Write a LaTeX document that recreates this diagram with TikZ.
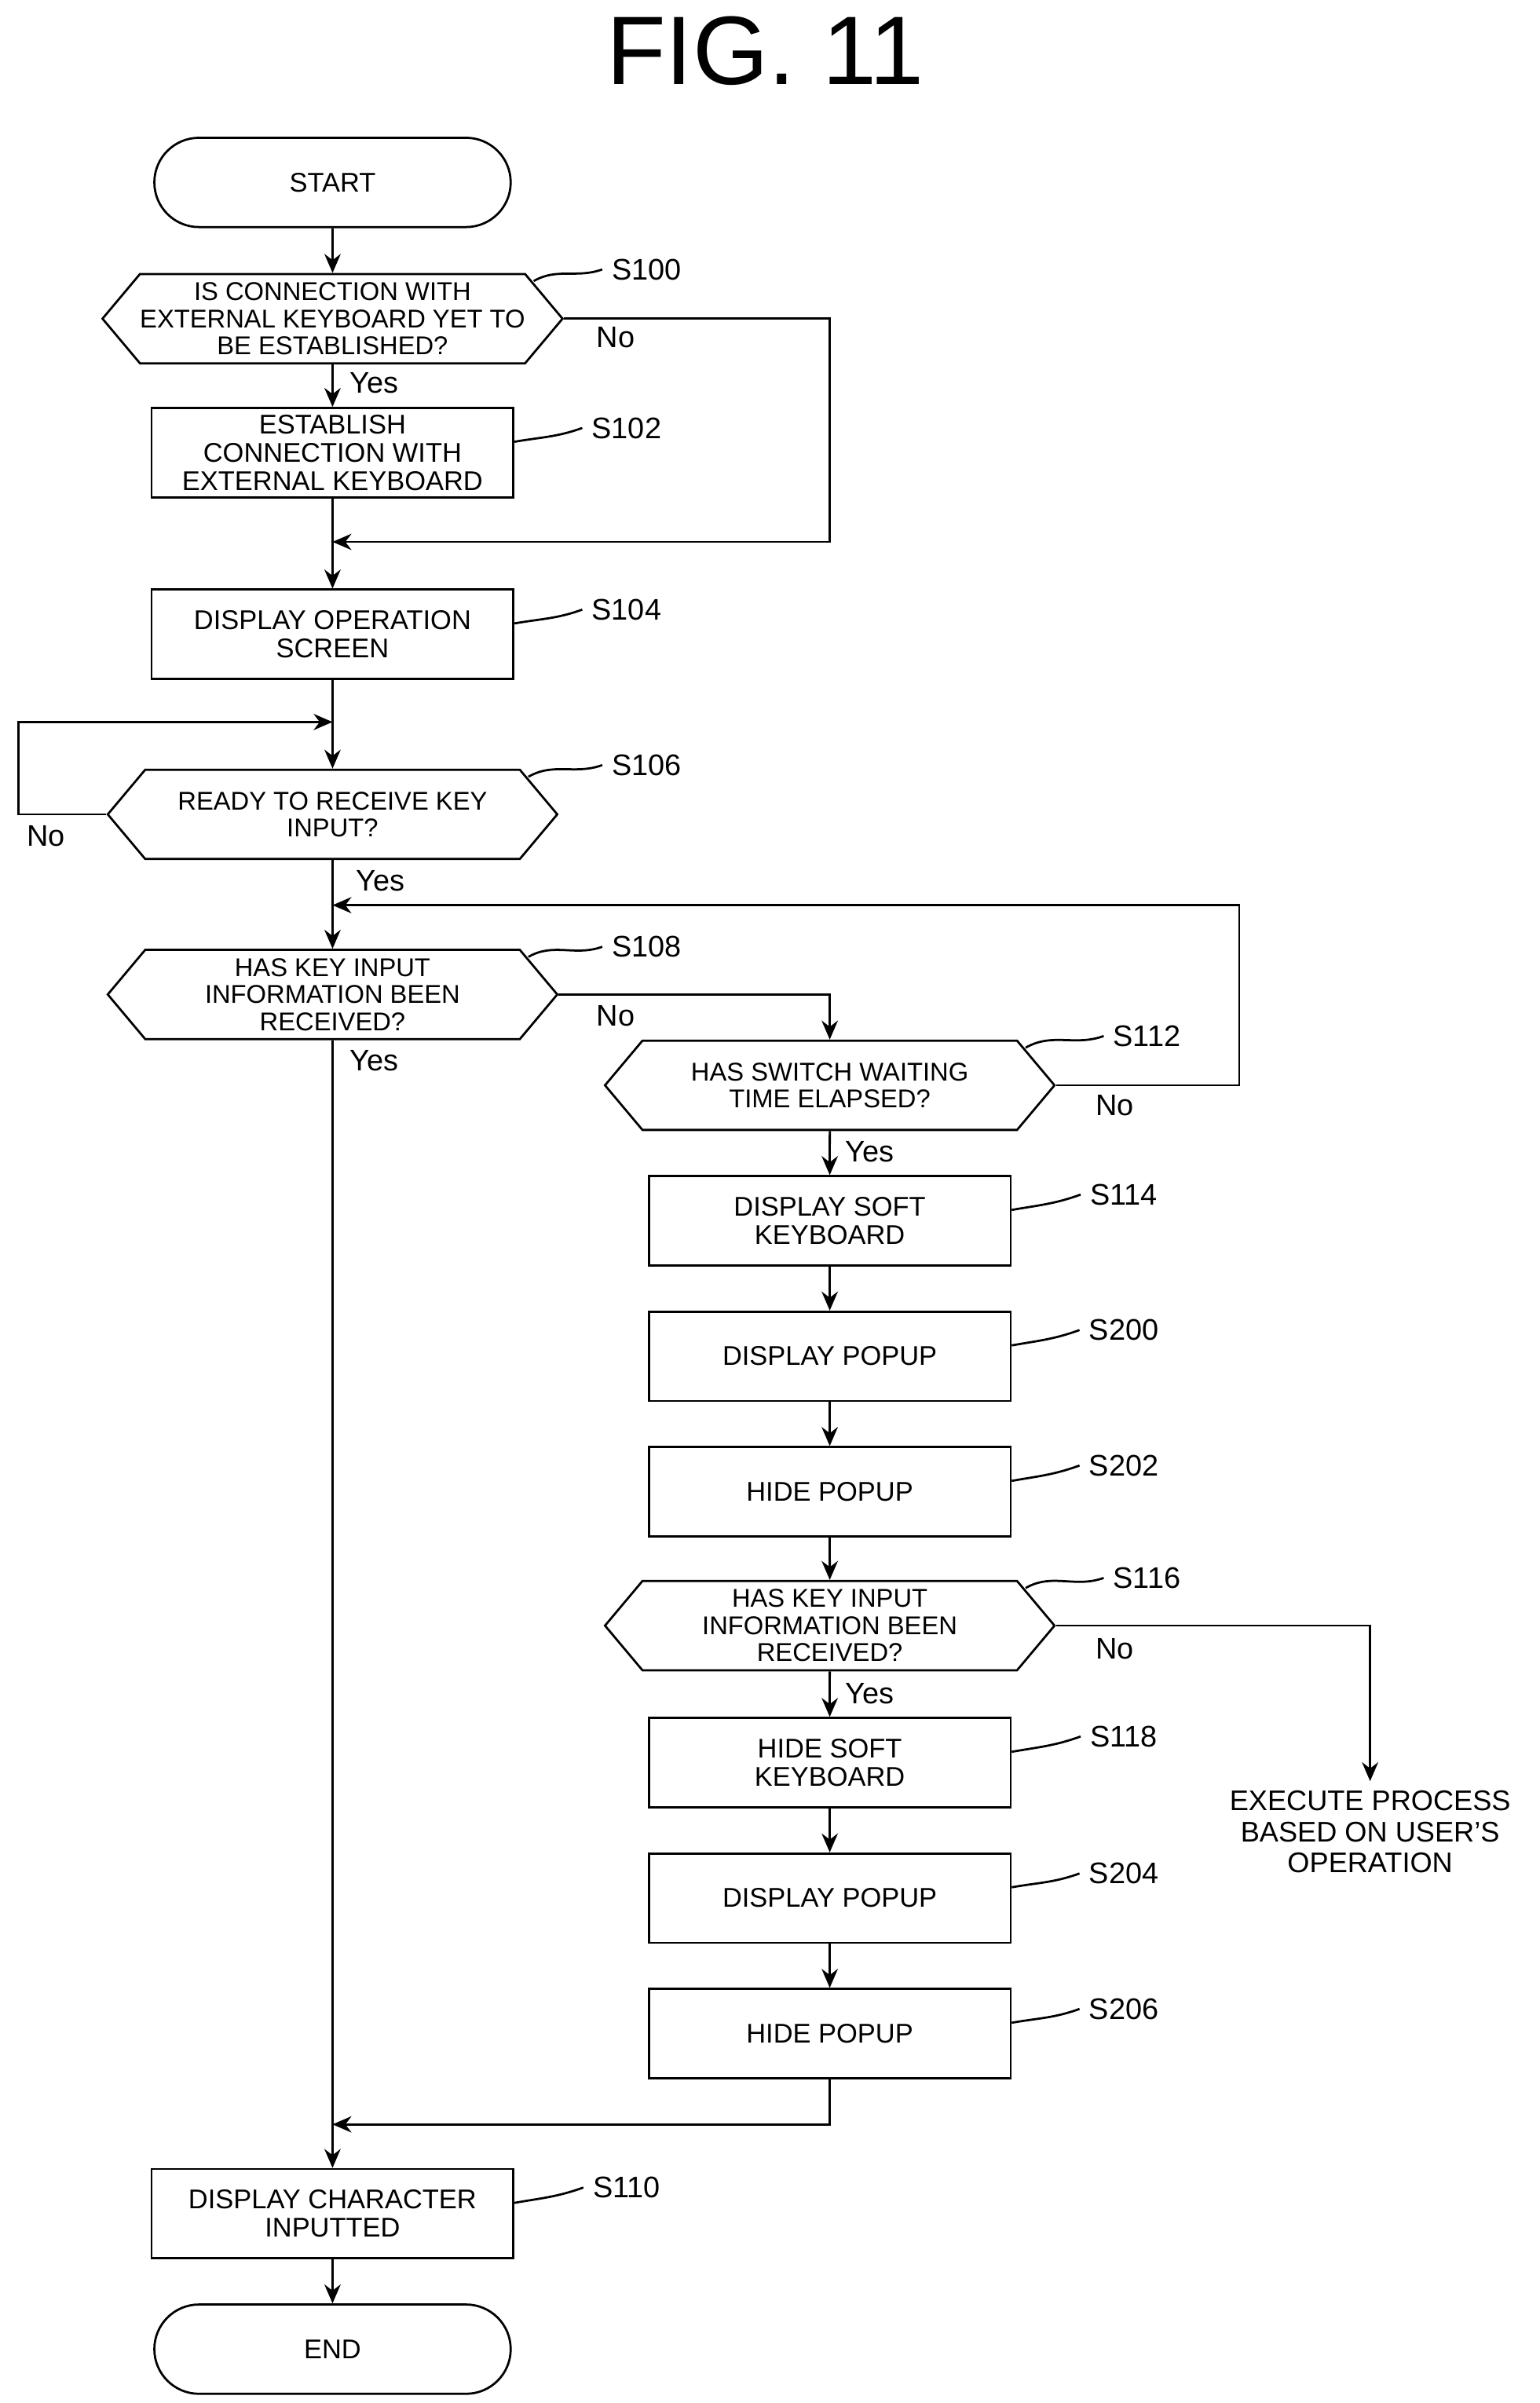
\documentclass[tikz,border=0pt]{standalone}
\usepackage{fontspec}
\setmainfont{Liberation Sans}
\usetikzlibrary{arrows.meta,shapes.symbols,shapes.misc,positioning}
\tikzset{
  box/.style={draw,thick,minimum width=4.7cm,minimum height=1.16cm,align=center,
    font=\fontsize{10}{10.5}\selectfont,inner sep=1pt},
  term/.style={box,rounded rectangle},
  dec/.style={draw,thick,signal,signal to=east and west,signal pointer angle=100,
    minimum width=5.84cm,minimum height=1.16cm,align=center,inner sep=0pt,
    font=\fontsize{9.5}{10}\selectfont},
  steplbl/.style={font=\fontsize{11}{12}\selectfont},
  yn/.style={font=\fontsize{11}{12}\selectfont},
  flow/.style={thick,-{Stealth[length=7pt,width=6pt]}},
  lead/.style={thick}
}
\begin{document}
\begin{tikzpicture}
\useasboundingbox (0,0) rectangle (20,-31.22);
\node[font=\fontsize{36}{38}\selectfont] (title) at (9.94,-0.66) {FIG. 11};
% main column
\node[term] (start) at (4.32,-2.37) {START};
\node[dec] (s100) at (4.32,-4.14) {IS CONNECTION WITH\\EXTERNAL KEYBOARD YET TO\\BE ESTABLISHED?};
\node[box] (s102) at (4.32,-5.88) {ESTABLISH\\CONNECTION WITH\\EXTERNAL KEYBOARD};
\node[box] (s104) at (4.32,-8.24) {DISPLAY OPERATION\\SCREEN};
\node[dec] (s106) at (4.32,-10.58) {READY TO RECEIVE KEY\\INPUT?};
\node[dec] (s108) at (4.32,-12.92) {HAS KEY INPUT\\INFORMATION BEEN\\RECEIVED?};
\node[box] (s110) at (4.32,-28.76) {DISPLAY CHARACTER\\INPUTTED};
\node[term] (end) at (4.32,-30.52) {END};
% right column
\node[dec] (s112) at (10.78,-14.1) {HAS SWITCH WAITING\\TIME ELAPSED?};
\node[box] (s114) at (10.78,-15.86) {DISPLAY SOFT\\KEYBOARD};
\node[box] (s200) at (10.78,-17.62) {DISPLAY POPUP};
\node[box] (s202) at (10.78,-19.38) {HIDE POPUP};
\node[dec] (s116) at (10.78,-21.12) {HAS KEY INPUT\\INFORMATION BEEN\\RECEIVED?};
\node[box] (s118) at (10.78,-22.9) {HIDE SOFT\\KEYBOARD};
\node[box] (s204) at (10.78,-24.66) {DISPLAY POPUP};
\node[box] (s206) at (10.78,-26.42) {HIDE POPUP};
\node[align=center,font=\fontsize{10.5}{11.5}\selectfont] (exec) at (17.8,-23.8) {EXECUTE PROCESS\\BASED ON USER'S\\OPERATION};
% joins
\coordinate (j1) at (4.32,-7.04);
\coordinate (j2) at (4.32,-9.38);
\coordinate (j3) at (4.32,-11.76);
\coordinate (j4) at (4.32,-27.6);
% straight flow
\draw[flow] (start) -- (s100);
\draw[flow] (s100) -- (s102);
\draw[flow] (s102) -- (s104);
\draw[flow] (s104) -- (s106);
\draw[flow] (s106) -- (s108);
\draw[flow] (s108) -- (s110);
\draw[flow] (s110) -- (end);
\draw[flow] (s112) -- (s114);
\draw[flow] (s114) -- (s200);
\draw[flow] (s200) -- (s202);
\draw[flow] (s202) -- (s116);
\draw[flow] (s116) -- (s118);
\draw[flow] (s118) -- (s204);
\draw[flow] (s204) -- (s206);
% loops
\draw[flow] (s100.east) -| (10.78,-7.04) -- (j1);
\draw[flow] (s106.west) -- (0.24,-10.58) |- (j2);
\draw[flow] (s112.east) -- (16.1,-14.1) |- (j3);
\draw[flow] (s108.east) -| (s112.north);
\draw[flow] (s116.east) -| (exec.north);
\draw[flow] (s206.south) |- (j4);
% yes / no
\node[yn] (y100) at (4.86,-4.98) {Yes};
\node[yn] (n100) at (8.0,-4.38) {No};
\node[yn] (n106) at (0.6,-10.86) {No};
\node[yn] (y106) at (4.94,-11.44) {Yes};
\node[yn] (n108) at (8.0,-13.2) {No};
\node[yn] (y108) at (4.86,-13.78) {Yes};
\node[yn] (y112) at (11.3,-14.96) {Yes};
\node[yn] (n112) at (14.48,-14.36) {No};
\node[yn] (y116) at (11.3,-22.0) {Yes};
\node[yn] (n116) at (14.48,-21.42) {No};
% step labels
\node[steplbl] (l100) at (8.4,-3.5) {S100};
\node[steplbl] (l102) at (8.14,-5.56) {S102};
\node[steplbl] (l104) at (8.14,-7.92) {S104};
\node[steplbl] (l106) at (8.4,-9.94) {S106};
\node[steplbl] (l108) at (8.4,-12.3) {S108};
\node[steplbl] (l112) at (14.9,-13.46) {S112};
\node[steplbl] (l114) at (14.6,-15.52) {S114};
\node[steplbl] (l200) at (14.6,-17.28) {S200};
\node[steplbl] (l202) at (14.6,-19.04) {S202};
\node[steplbl] (l116) at (14.9,-20.5) {S116};
\node[steplbl] (l118) at (14.6,-22.56) {S118};
\node[steplbl] (l204) at (14.6,-24.34) {S204};
\node[steplbl] (l206) at (14.6,-26.1) {S206};
\node[steplbl] (l110) at (8.14,-28.42) {S110};
\foreach \s in {100,106,108,112,116}
  \draw[lead] ([xshift=3pt,yshift=-3pt]s\s.north east) to[out=30,in=200] (l\s.west);
\foreach \s in {102,104,114,200,202,118,204,206,110}
  \draw[lead] ([yshift=4pt]s\s.east) to[out=10,in=200] (l\s.west);
\end{tikzpicture}
\end{document}
